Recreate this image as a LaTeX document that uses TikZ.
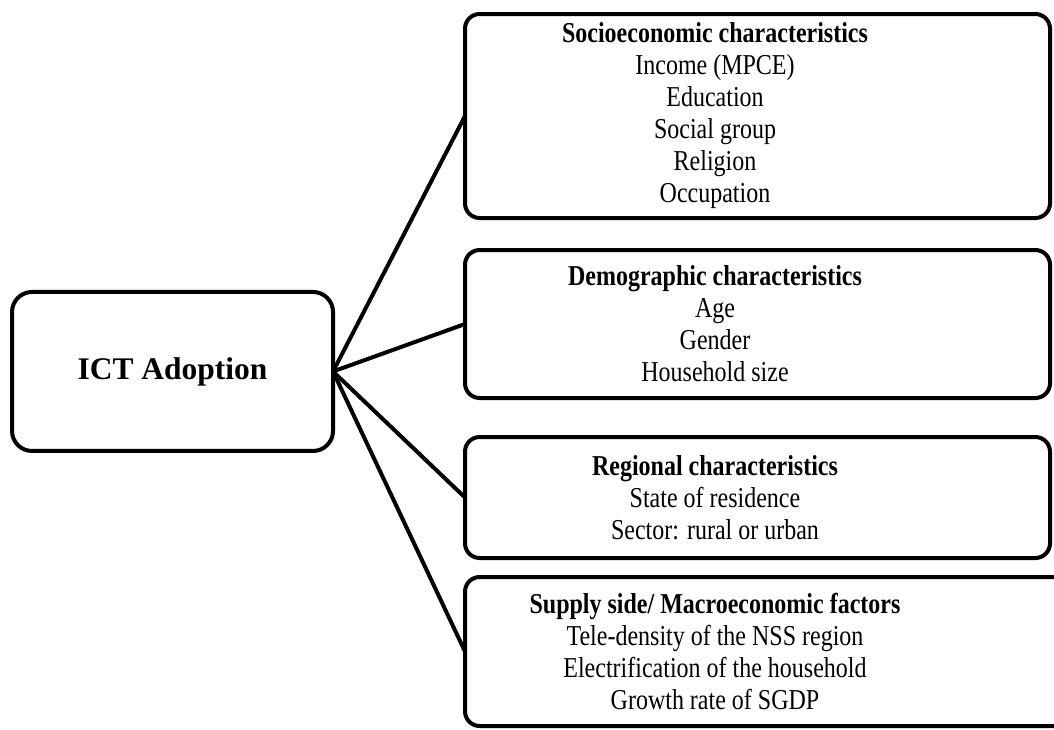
\documentclass[tikz,border=0pt]{standalone}
\usepackage{fontspec}
\setmainfont{Liberation Serif}
\usetikzlibrary{positioning}

\begin{document}
\begin{tikzpicture}[
                x = 1pt, y = 1pt,
                line width = 3pt, % line style
                font = \fontsize{18}{20}\selectfont
                ]
                \tikzstyle{every node}=[
                    inner sep = 0pt,
                    outer sep = 0pt
                ]
                \tikzstyle{factor}=[
                    draw,
                    rounded corners = 11pt,
                    minimum width = 438.75pt
                ]
                \tikzstyle{items}=[
                    align = center,
                    yscale = 1.2, % tall text
                    transform shape
                ]
                \useasboundingbox (0,0) rectangle (790.5,-546.75);

                \node[draw, rounded corners = 15pt, minimum width = 240.75pt,
                      minimum height = 119.25pt,
                      font = \fontsize{23.6}{28}\selectfont\bfseries]
                      (ict) at (129.4,-278.6) {ICT Adoption};

                \node[factor, minimum height = 153pt, anchor = north west]
                      (soc) at (348.75,-10.5) {};
                \node[factor, minimum height = 111pt,
                      below = 24pt of soc.south west, anchor = north west] (dem) {};
                \node[factor, minimum height = 90.75pt,
                      below = 29.25pt of dem.south west, anchor = north west] (reg) {};
                \node[factor, minimum height = 111.75pt, minimum width = 457.5pt,
                      below = 14.25pt of reg.south west, anchor = north west] (sup) {};

                \node[items] (soct) at ([xshift=187.5pt]soc.west) {
                \textbf{Socioeconomic characteristics}\\
                Income (MPCE)\\
                Education\\
                Social group\\
                Religion\\
                Occupation};

                \node[items] (demt) at ([xshift=187.5pt]dem.west) {
                \textbf{Demographic characteristics}\\
                Age\\
                Gender\\
                Household size};

                \node[items] (regt) at ([xshift=187.5pt]reg.west) {
                \textbf{Regional characteristics}\\
                State of residence\\
                Sector: rural or urban};

                \node[items] (supt) at ([xshift=187.5pt]sup.west) {
                \textbf{Supply side/ Macroeconomic factors}\\
                Tele-density of the NSS region\\
                Electrification of the household\\
                Growth rate of SGDP};

                \foreach \f in {soc, dem, reg, sup}
                    \draw (ict.east) -- (\f.west);
            \end{tikzpicture}
\end{document}
